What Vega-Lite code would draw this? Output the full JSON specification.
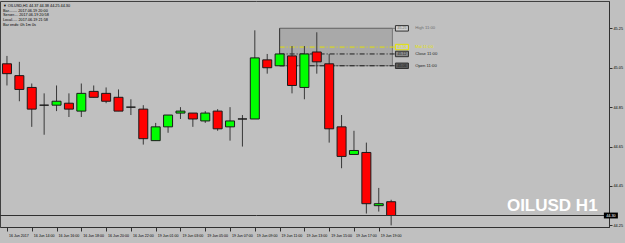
{
  "$schema": "https://vega.github.io/schema/vega-lite/v6.json",
  "width": 609,
  "height": 226,
  "autosize": {"type": "none"},
  "padding": {"left": 0, "top": 1, "right": 16, "bottom": 16},
  "background": "#c0c0c0",
  "config": {"view": {"stroke": "#404040", "strokeWidth": 1, "fill": "#c0c0c0"}},
  "title": {
    "text": ["▼ OILUSD,H1  44.37 44.38 44.25 44.30", "Bar........  2017.06.19 20:00", "Server....  2017.06.19 20:58", "Local.....  2017.06.19 21:58", "Bar ends:  0h 1m 0s"],
    "anchor": "start",
    "frame": "group",
    "orient": "top",
    "baseline": "top",
    "offset": -25.5,
    "dx": 3,
    "font": "Liberation Sans",
    "fontSize": 3.8,
    "fontWeight": "normal",
    "lineHeight": 4.7,
    "color": "#000000"
  },
  "datasets": {
    "candles": [
      {"i": 0, "time": "16 Jun 12:00", "open": 45.07, "high": 45.11, "low": 44.96, "close": 45.02},
      {"i": 1, "time": "16 Jun 13:00", "open": 45.01, "high": 45.08, "low": 44.88, "close": 44.94},
      {"i": 2, "time": "16 Jun 14:00", "open": 44.95, "high": 44.97, "low": 44.75, "close": 44.84},
      {"i": 3, "time": "16 Jun 15:00", "open": 44.86, "high": 44.92, "low": 44.71, "close": 44.86},
      {"i": 4, "time": "16 Jun 16:00", "open": 44.86, "high": 44.96, "low": 44.83, "close": 44.88},
      {"i": 5, "time": "16 Jun 17:00", "open": 44.87, "high": 44.92, "low": 44.80, "close": 44.84},
      {"i": 6, "time": "16 Jun 18:00", "open": 44.83, "high": 44.97, "low": 44.80, "close": 44.92},
      {"i": 7, "time": "16 Jun 19:00", "open": 44.93, "high": 44.96, "low": 44.90, "close": 44.90},
      {"i": 8, "time": "16 Jun 20:00", "open": 44.92, "high": 44.95, "low": 44.87, "close": 44.88},
      {"i": 9, "time": "16 Jun 21:00", "open": 44.90, "high": 44.94, "low": 44.83, "close": 44.83},
      {"i": 10, "time": "16 Jun 22:00", "open": 44.85, "high": 44.89, "low": 44.81, "close": 44.85},
      {"i": 11, "time": "16 Jun 23:00", "open": 44.84, "high": 44.86, "low": 44.66, "close": 44.69},
      {"i": 12, "time": "19 Jun 01:00", "open": 44.68, "high": 44.77, "low": 44.68, "close": 44.75},
      {"i": 13, "time": "19 Jun 02:00", "open": 44.75, "high": 44.81, "low": 44.72, "close": 44.81},
      {"i": 14, "time": "19 Jun 03:00", "open": 44.82, "high": 44.85, "low": 44.79, "close": 44.83},
      {"i": 15, "time": "19 Jun 04:00", "open": 44.82, "high": 44.82, "low": 44.75, "close": 44.79},
      {"i": 16, "time": "19 Jun 05:00", "open": 44.78, "high": 44.83, "low": 44.77, "close": 44.82},
      {"i": 17, "time": "19 Jun 06:00", "open": 44.83, "high": 44.84, "low": 44.73, "close": 44.74},
      {"i": 18, "time": "19 Jun 07:00", "open": 44.75, "high": 44.85, "low": 44.68, "close": 44.78},
      {"i": 19, "time": "19 Jun 08:00", "open": 44.79, "high": 44.81, "low": 44.65, "close": 44.79},
      {"i": 20, "time": "19 Jun 09:00", "open": 44.79, "high": 45.24, "low": 44.79, "close": 45.10},
      {"i": 21, "time": "19 Jun 10:00", "open": 45.09, "high": 45.12, "low": 45.02, "close": 45.05},
      {"i": 22, "time": "19 Jun 11:00", "open": 45.06, "high": 45.25, "low": 45.06, "close": 45.12},
      {"i": 23, "time": "19 Jun 12:00", "open": 45.11, "high": 45.16, "low": 44.92, "close": 44.96},
      {"i": 24, "time": "19 Jun 13:00", "open": 44.95, "high": 45.16, "low": 44.89, "close": 45.12},
      {"i": 25, "time": "19 Jun 14:00", "open": 45.13, "high": 45.23, "low": 45.02, "close": 45.08},
      {"i": 26, "time": "19 Jun 15:00", "open": 45.07, "high": 45.12, "low": 44.67, "close": 44.74},
      {"i": 27, "time": "19 Jun 16:00", "open": 44.75, "high": 44.81, "low": 44.54, "close": 44.60},
      {"i": 28, "time": "19 Jun 17:00", "open": 44.61, "high": 44.73, "low": 44.61, "close": 44.63},
      {"i": 29, "time": "19 Jun 18:00", "open": 44.62, "high": 44.67, "low": 44.31, "close": 44.36},
      {"i": 30, "time": "19 Jun 19:00", "open": 44.35, "high": 44.44, "low": 44.32, "close": 44.36},
      {"i": 31, "time": "19 Jun 20:00", "open": 44.37, "high": 44.38, "low": 44.25, "close": 44.30}
    ],
    "drawing": [{"start": 22, "end": 31.1, "high": 45.25, "low": 45.06}],
    "levels": [
      {"kind": "high", "name": "High 11:00", "price": 45.25, "label": "45.25"},
      {"kind": "mid", "name": "Mid 11:00", "price": 45.155, "label": "45.16"},
      {"kind": "close", "name": "Close 11:00", "price": 45.12, "label": "45.12"},
      {"kind": "open", "name": "Open 11:00", "price": 45.06, "label": "45.06"}
    ],
    "bid": [{"price": 44.30, "label": "44.30"}]
  },
  "layer": [
    {
      "data": {"name": "drawing"},
      "mark": {"type": "rect", "fill": "#a9a9a9", "stroke": "#777777", "strokeWidth": 1, "clip": true},
      "encoding": {
        "x": {"field": "start", "type": "quantitative",
          "scale": {"domain": [-0.1587, 48.175], "nice": false, "zero": false},
          "axis": {"orient": "bottom", "values": [0, 2, 4, 6, 8, 10, 12, 14, 16, 18, 20, 22, 24, 26, 28, 30],
            "labelExpr": "['16 Jun 2017','16 Jun 14:00','16 Jun 16:00','16 Jun 18:00','16 Jun 20:00','16 Jun 22:00','19 Jun 01:00','19 Jun 03:00','19 Jun 05:00','19 Jun 07:00','19 Jun 09:00','19 Jun 11:00','19 Jun 13:00','19 Jun 15:00','19 Jun 17:00','19 Jun 19:00'][datum.value/2]",
            "grid": false, "title": null, "domainColor": "#303030", "tickColor": "#303030", "tickSize": 4,
            "labelAlign": "left", "labelOffset": 1.5, "labelBaseline": "top", "labelPadding": 2,
            "labelFont": "Liberation Sans", "labelFontSize": 3.6, "labelColor": "#000000",
            "labelFlush": false, "labelOverlap": false}},
        "x2": {"field": "end"},
        "y": {"field": "high", "type": "quantitative",
          "scale": {"domain": [44.2417, 45.3888], "nice": false, "zero": false},
          "axis": {"orient": "right", "values": [44.25, 44.35, 44.45, 44.55, 44.65, 44.75, 44.85, 44.95, 45.05, 45.15, 45.25, 45.35],
            "format": ".2f", "grid": false, "title": null, "domainColor": "#303030", "tickColor": "#303030", "tickSize": 3,
            "labelPadding": 1, "labelFont": "Liberation Sans", "labelFontSize": 3.8, "labelColor": "#000000",
            "labelFlush": false, "labelOverlap": false}},
        "y2": {"field": "low"}
      }
    },
    {
      "data": {"name": "levels"},
      "mark": {"type": "rule", "strokeWidth": 1, "clip": true},
      "encoding": {
        "x": {"datum": 22, "type": "quantitative", "scale": {"domain": [-0.1587, 48.175], "nice": false, "zero": false}},
        "x2": {"datum": 31.35},
        "y": {"field": "price", "type": "quantitative", "scale": {"domain": [44.2417, 45.3888], "nice": false, "zero": false}},
        "color": {"field": "kind", "type": "nominal", "legend": null,
          "scale": {"domain": ["high", "mid", "close", "open"], "range": ["#6e6e6e", "#e4e400", "#1e1e1e", "#1e1e1e"]}},
        "strokeDash": {"field": "kind", "type": "nominal", "legend": null,
          "scale": {"domain": ["high", "mid", "close", "open"], "range": [[1, 0], [5, 2, 1, 2], [5, 2, 1, 2], [5, 2, 1, 2]]}}
      }
    },
    {
      "data": {"name": "candles"},
      "mark": {"type": "rule", "color": "#383838", "strokeWidth": 1, "clip": true},
      "encoding": {
        "x": {"field": "i", "type": "quantitative", "scale": {"domain": [-0.1587, 48.175], "nice": false, "zero": false}},
        "y": {"field": "low", "type": "quantitative", "scale": {"domain": [44.2417, 45.3888], "nice": false, "zero": false}},
        "y2": {"field": "high"}
      }
    },
    {
      "data": {"name": "candles"},
      "mark": {"type": "bar", "width": 9, "stroke": "#1a1a1a", "strokeWidth": 1, "clip": true},
      "encoding": {
        "x": {"field": "i", "type": "quantitative", "scale": {"domain": [-0.1587, 48.175], "nice": false, "zero": false}},
        "y": {"field": "open", "type": "quantitative", "scale": {"domain": [44.2417, 45.3888], "nice": false, "zero": false}},
        "y2": {"field": "close"},
        "fill": {"condition": {"test": "datum.open > datum.close", "value": "#ff0000"}, "value": "#00ff00"},
        "tooltip": [{"field": "time"}, {"field": "open"}, {"field": "high"}, {"field": "low"}, {"field": "close"}]
      }
    },
    {
      "data": {"name": "bid"},
      "mark": {"type": "rule", "color": "#303030", "strokeWidth": 1},
      "encoding": {
        "y": {"field": "price", "type": "quantitative", "scale": {"domain": [44.2417, 45.3888], "nice": false, "zero": false}}
      }
    },
    {
      "data": {"name": "levels"},
      "mark": {"type": "point", "shape": "M-1,-0.42H1V0.42H-1Z", "size": 169, "filled": true, "strokeWidth": 1, "opacity": 1},
      "encoding": {
        "x": {"datum": 31.87, "type": "quantitative", "scale": {"domain": [-0.1587, 48.175], "nice": false, "zero": false}},
        "y": {"field": "price", "type": "quantitative", "scale": {"domain": [44.2417, 45.3888], "nice": false, "zero": false}},
        "fill": {"field": "kind", "type": "nominal", "legend": null,
          "scale": {"domain": ["high", "mid", "close", "open"], "range": ["#d0d0d0", "#c8c8c8", "#8a8a8a", "#5a5a5a"]}},
        "stroke": {"field": "kind", "type": "nominal", "legend": null,
          "scale": {"domain": ["high", "mid", "close", "open"], "range": ["#303030", "#e4e400", "#303030", "#303030"]}}
      }
    },
    {
      "data": {"name": "levels"},
      "mark": {"type": "text", "font": "Liberation Sans", "fontSize": 3.6, "align": "center", "baseline": "middle"},
      "encoding": {
        "x": {"datum": 31.87, "type": "quantitative", "scale": {"domain": [-0.1587, 48.175], "nice": false, "zero": false}},
        "y": {"field": "price", "type": "quantitative", "scale": {"domain": [44.2417, 45.3888], "nice": false, "zero": false}},
        "text": {"field": "label"},
        "color": {"field": "kind", "type": "nominal", "legend": null,
          "scale": {"domain": ["high", "mid", "close", "open"], "range": ["#202020", "#d8d800", "#f0f0f0", "#f0f0f0"]}}
      }
    },
    {
      "data": {"name": "levels"},
      "mark": {"type": "text", "font": "Liberation Sans", "fontSize": 4.2, "align": "left", "baseline": "middle"},
      "encoding": {
        "x": {"datum": 32.94, "type": "quantitative", "scale": {"domain": [-0.1587, 48.175], "nice": false, "zero": false}},
        "y": {"field": "price", "type": "quantitative", "scale": {"domain": [44.2417, 45.3888], "nice": false, "zero": false}},
        "text": {"field": "name"},
        "color": {"field": "kind", "type": "nominal", "legend": null,
          "scale": {"domain": ["high", "mid", "close", "open"], "range": ["#202020", "#e4e400", "#202020", "#202020"]}}
      }
    },
    {
      "data": {"name": "bid"},
      "mark": {"type": "point", "shape": "M-1,-0.42H1V0.42H-1Z", "size": 196, "filled": true, "color": "#000000", "opacity": 1},
      "encoding": {
        "x": {"datum": 48.73, "type": "quantitative", "scale": {"domain": [-0.1587, 48.175], "nice": false, "zero": false}},
        "y": {"field": "price", "type": "quantitative", "scale": {"domain": [44.2417, 45.3888], "nice": false, "zero": false}}
      }
    },
    {
      "data": {"name": "bid"},
      "mark": {"type": "text", "font": "Liberation Sans", "fontSize": 3.8, "align": "center", "baseline": "middle", "color": "#ffffff"},
      "encoding": {
        "x": {"datum": 48.73, "type": "quantitative", "scale": {"domain": [-0.1587, 48.175], "nice": false, "zero": false}},
        "y": {"field": "price", "type": "quantitative", "scale": {"domain": [44.2417, 45.3888], "nice": false, "zero": false}},
        "text": {"field": "label"}
      }
    },
    {
      "data": {"values": [{"text": "OILUSD H1"}]},
      "mark": {"type": "text", "font": "Liberation Sans", "fontSize": 17, "fontWeight": "bold", "align": "center", "baseline": "middle", "color": "#ffffff"},
      "encoding": {
        "x": {"datum": 44.0, "type": "quantitative", "scale": {"domain": [-0.1587, 48.175], "nice": false, "zero": false}},
        "y": {"datum": 44.35, "type": "quantitative", "scale": {"domain": [44.2417, 45.3888], "nice": false, "zero": false}},
        "text": {"field": "text"}
      }
    }
  ]
}
